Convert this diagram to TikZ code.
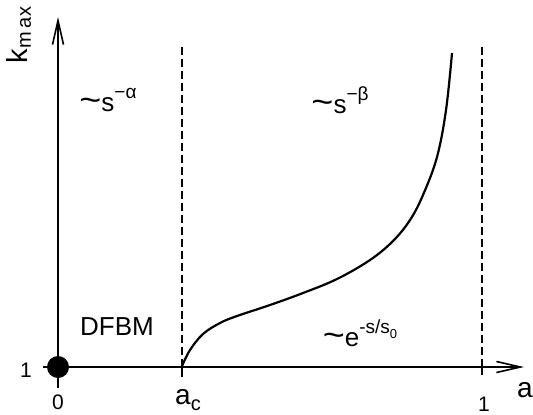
\documentclass[tikz,border=0pt]{standalone}
\usepackage{fontspec}
\setmainfont{Liberation Sans}
\usetikzlibrary{arrows.meta,positioning}
\newcommand\raisedidx[1]{\raisebox{0.95ex}{\fontsize{9.5}{10}\selectfont #1}}
\newcommand\scaletilde{\scalebox{1.45}[1.3]{\textasciitilde}}

\begin{document}
\begin{tikzpicture}[
  x=0.5pt, y=-0.5pt,
  font=\fontsize{13}{15}\selectfont,
  axis/.style={draw=black, line width=1pt, -{Straight Barb[length=12pt, width=5.5pt, line width=0.8pt]}},
  tick/.style={draw=black, line width=1pt},
  bound/.style={draw=black, line width=0.9pt, dash pattern=on 4pt off 2pt},
  curve/.style={draw=black, line width=1.1pt},
  label/.style={inner sep=0pt},
  tlabel/.style={inner sep=0pt, font=\fontsize{10.5}{12}\selectfont}
]
\useasboundingbox (0,0) rectangle (533,414);

\coordinate (origin) at (58,367);
\coordinate (ybot) at (58,388);
\coordinate (ytop) at (58,17);
\coordinate (xleft) at (43,367);
\coordinate (xright) at (524,367);
\coordinate (ac) at (182,367);
\coordinate (acbot) at (182,377);
\coordinate (actop) at (182,45);
\coordinate (one) at (482,367);
\coordinate (onebot) at (482,375);
\coordinate (onetop) at (482,45);

% axes
\draw[axis] (ybot) -- (ytop);
\draw[axis] (xleft) -- (xright);
\fill[black] (origin) circle (5.5pt);

% phase boundaries
\draw[bound] (ac) -- (actop);
\draw[bound] (one) -- (onetop);
\draw[tick] (ac) -- (acbot);
\draw[tick] (one) -- (onebot);

% k_max(a) for a > a_c
\draw[curve] plot[smooth, tension=0.6] coordinates {(182,366) (190,350) (203,334) (220,323) (237,316) (270,305) (303,293) (337,279) (370,260) (393,241) (410,220) (423,195) (437,157) (446,110) (452,53)};

\node[label, rotate=90, font=\fontsize{14.5}{16}\selectfont] (kmax) at (19,35) {k\raisebox{-0.2ex}{\fontsize{10}{11}\selectfont m\hspace{0.2em}ax}};
\node[label] (alpha) at (108,100) {\scaletilde s\raisedidx{−α}};
\node[label] (beta) at (340,100) {\scaletilde s\raisedidx{−β}};
\node[label] (dfbm) at (117,327) {DFBM};
\node[label] (expo) at (360,333) {\scaletilde e\raisedidx{-s/s\raisebox{-0.5ex}{\fontsize{6.5}{7}\selectfont 0}}};

\node[tlabel] (kone) at (26,370) {1};
\node[tlabel] (azero) at (58,402) {0};
\node[label, font=\fontsize{14}{15}\selectfont] (aclab) at (188,400) {a\raisebox{-0.4ex}{\fontsize{10}{11}\selectfont c}};
\node[tlabel] (aone) at (484,404) {1};
\node[label, font=\fontsize{14}{15}\selectfont] (alab) at (525,390) {a};
\end{tikzpicture}
\end{document}
